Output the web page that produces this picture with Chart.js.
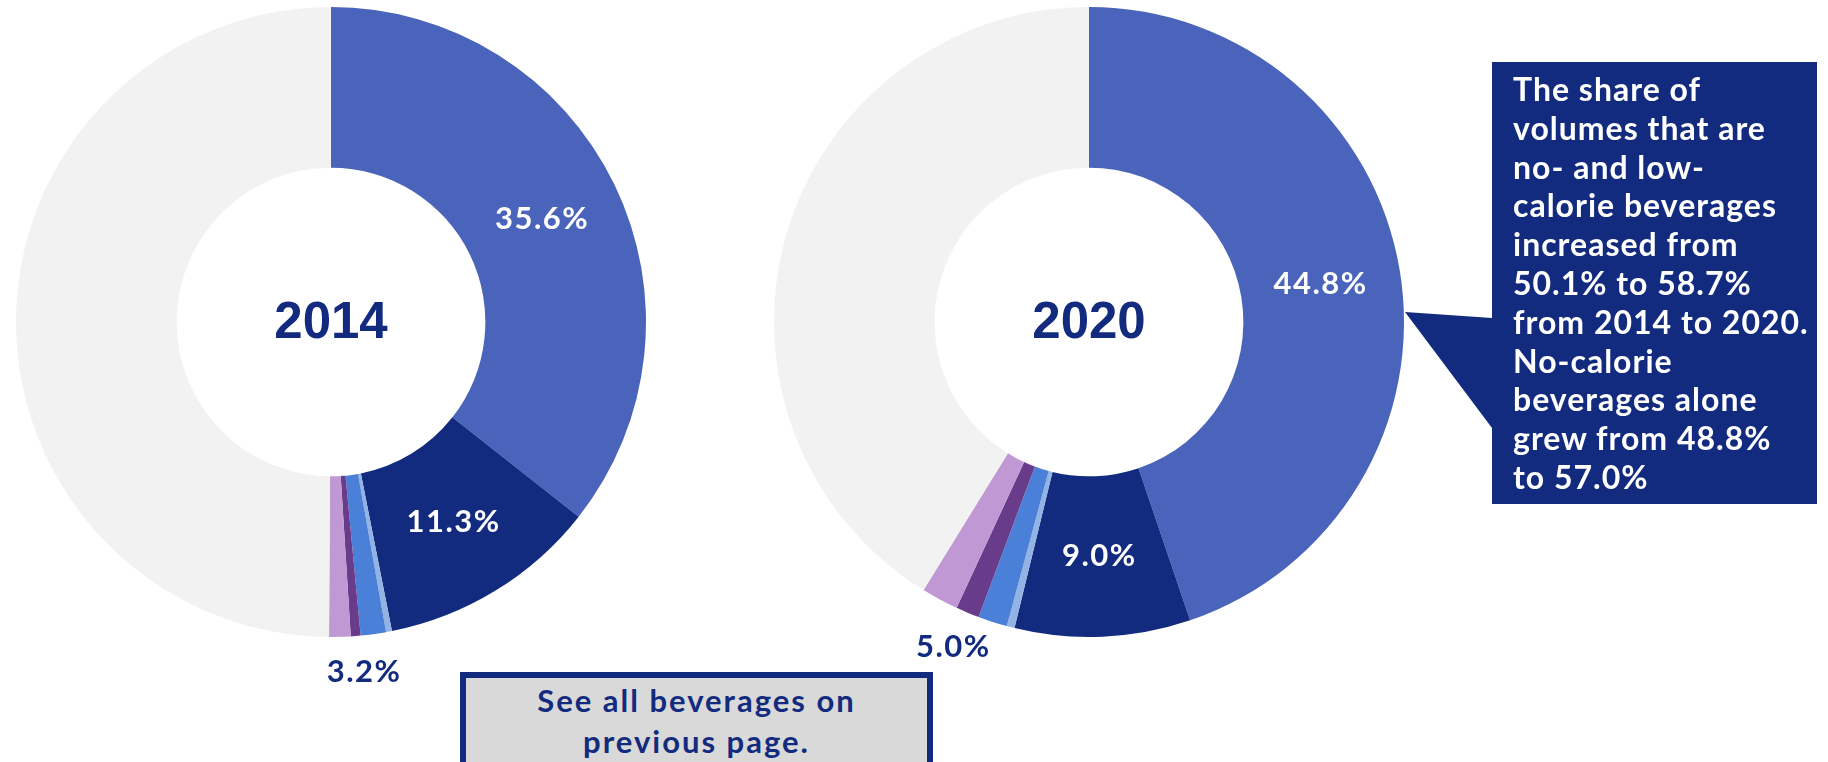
<!DOCTYPE html>
<html>
<head>
<meta charset="utf-8">
<title>No- and low-calorie share of volumes, 2014 vs 2020</title>
<script src="https://cdn.jsdelivr.net/npm/chart.js@4.4.0/dist/chart.umd.min.js"></script>
<style>
  html, body { margin: 0; padding: 0; background: #fff; }
  body {
    width: 1828px; height: 762px; position: relative; overflow: hidden;
    font-family: Lato, "Noto Sans", sans-serif;
  }
  .donut { position: absolute; width: 700px; height: 800px; }
  #c2014 { left: -19px; top: -28px; }
  #c2020 { left: 739px; top: -28px; }
  #callout {
    position: absolute; left: 1405px; top: 62px; width: 412px; height: 442px;
    background: #122b7f;
    clip-path: polygon(87px 0, 412px 0, 412px 442px, 87px 442px, 87px 366px, 0 250px, 87px 256px);
  }
  #calloutText {
    position: absolute; left: 1513px; top: 70px;
    color: #fff; font-weight: 700; font-size: 32px; line-height: 38.8px;
    letter-spacing: 1px; white-space: nowrap;
  }
  #note {
    position: absolute; left: 460px; top: 672px; width: 473px; height: 110px;
    box-sizing: border-box; border: 6px solid #122b7f; background: #d9d9d9;
    color: #122b7f; font-weight: 700; font-size: 31px; line-height: 41px;
    letter-spacing: 2px; text-align: center; padding-top: 2px;
  }
</style>
</head>
<body>
<canvas id="c2014" class="donut" width="700" height="800"></canvas>
<canvas id="c2020" class="donut" width="700" height="800"></canvas>
<div id="callout"></div>
<div id="calloutText">The share of<br>volumes that are<br>no- and low-<br>calorie beverages<br>increased from<br>50.1% to 58.7%<br>from 2014 to 2020.<br>No-calorie<br>beverages alone<br>grew from 48.8%<br>to 57.0%</div>
<div id="note">See all beverages on<br>previous page.</div>

<script>
// data (share of volume, %)
const categories = [
  "No-calorie group 1",
  "No-calorie group 2",
  "No-calorie group 3",
  "No-calorie group 4",
  "Low-calorie group 1",
  "Low-calorie group 2",
  "All other beverages",
];
const values2014 = [35.6, 11.3, 0.3, 1.3, 0.5, 1.1, 49.9];
const values2020 = [44.8, 9.0, 0.4, 1.5, 1.2, 1.9, 41.2];
const years = ["2014", "2020"];

const colors = ["#4a64bb", "#122b7f", "#93b3e4", "#4a80d8", "#683c8b", "#c098d4", "#f2f2f2"];
const navy = "#122b7f";

// which slices get a label inside, and which get one summed label outside
const insideIdx = [0, 1];
const smallIdx = [2, 3, 4, 5];

const sliceLabels = {
  id: "sliceLabels",
  afterDatasetsDraw(chart, args, opts) {
    const ctx = chart.ctx;
    const meta = chart.getDatasetMeta(0);
    const vals = chart.data.datasets[0].data;
    ctx.save();
    ctx.textAlign = "center";
    ctx.textBaseline = "middle";
    ctx.letterSpacing = "1.5px";

    ctx.font = "bold 31px Lato";
    ctx.fillStyle = "#fff";
    insideIdx.forEach((i) => {
      const p = meta.data[i].tooltipPosition();
      ctx.fillText(vals[i].toFixed(1) + "%", p.x, p.y);
    });

    // summed label for the thin slices, just outside the ring
    const first = meta.data[smallIdx[0]];
    const last = meta.data[smallIdx[smallIdx.length - 1]];
    const mid = (first.startAngle + last.endAngle) / 2;
    const r = first.outerRadius + 37;
    let sum = 0;
    smallIdx.forEach((i) => (sum += vals[i]));
    ctx.fillStyle = navy;
    ctx.fillText(sum.toFixed(1) + "%", first.x + r * Math.cos(mid), first.y + r * Math.sin(mid));

    // year in the hole
    ctx.letterSpacing = "0px";
    ctx.font = "bold 51px 'Liberation Sans'";
    ctx.fillText(opts.year, first.x, first.y + 2);
    ctx.restore();
  },
};

function makeDonut(id, values, year) {
  new Chart(document.getElementById(id), {
    type: "doughnut",
    data: {
      labels: categories,
      datasets: [
        {
          data: values,
          backgroundColor: colors,
          borderWidth: 0,
          hoverOffset: 0,
        },
      ],
    },
    options: {
      responsive: false,
      animation: false,
      cutout: "49%",
      layout: { padding: { left: 35, right: 35, top: 35, bottom: 135 } },
      plugins: {
        legend: { display: false },
        tooltip: { enabled: false },
        sliceLabels: { year: year },
      },
    },
    plugins: [sliceLabels],
  });
}

makeDonut("c2014", values2014, years[0]);
makeDonut("c2020", values2020, years[1]);
</script>
</body>
</html>
